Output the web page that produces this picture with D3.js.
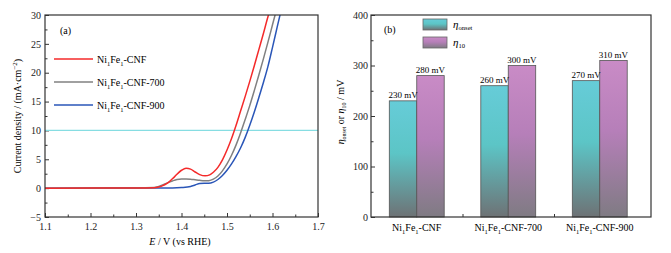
<!DOCTYPE html>
<html>
<head>
<meta charset="utf-8">
<script src="https://cdn.jsdelivr.net/npm/d3@7"></script>
<style>
  body { margin: 0; background: #fff; }
  svg { display: block; font-family: "Liberation Serif", "Times New Roman", serif; }
</style>
</head>
<body>
<div id="chart"></div>
<script>
// (a) LSV curves, [E (V vs RHE), j (mA cm^-2)]
const seriesNames = ["Ni1Fe1-CNF", "Ni1Fe1-CNF-700", "Ni1Fe1-CNF-900"];
const curveCNF = [
    [1.10, 0], [1.30, 0.03], [1.34, 0.08], [1.355, 0.3], [1.37, 0.9], [1.385, 2.0], [1.40, 3.1],
    [1.41, 3.45], [1.42, 3.3], [1.43, 2.8], [1.44, 2.35], [1.452, 2.13], [1.462, 2.3], [1.47, 2.75],
    [1.48, 3.6], [1.49, 4.9], [1.50, 6.6], [1.51, 8.6], [1.52, 10.9], [1.53, 13.4], [1.54, 15.9],
    [1.55, 18.5], [1.56, 21.2], [1.57, 24], [1.58, 26.8], [1.59, 29.7], [1.595, 31]
];
const curve700 = [
    [1.10, 0], [1.30, 0.03], [1.34, 0.1], [1.35, 0.3], [1.36, 0.6], [1.37, 0.95], [1.38, 1.25],
    [1.39, 1.5], [1.40, 1.6], [1.41, 1.6], [1.42, 1.55], [1.43, 1.45], [1.44, 1.35], [1.45, 1.28],
    [1.46, 1.3], [1.47, 1.55], [1.48, 2.1], [1.49, 3.0], [1.50, 4.2], [1.51, 5.7], [1.52, 7.5],
    [1.53, 9.6], [1.54, 11.9], [1.55, 14.3], [1.56, 16.9], [1.57, 19.6], [1.58, 22.4], [1.59, 25.3],
    [1.60, 28.3], [1.61, 31.3]
];
const curve900 = [
    [1.10, 0], [1.38, 0.03], [1.40, 0.1], [1.42, 0.3], [1.43, 0.55], [1.44, 0.8], [1.45, 0.85],
    [1.46, 0.85], [1.47, 1.05], [1.48, 1.5], [1.49, 2.2], [1.50, 3.1], [1.51, 4.2], [1.52, 5.5],
    [1.53, 7.0], [1.54, 8.8], [1.55, 10.9], [1.56, 13.2], [1.57, 15.7], [1.58, 18.3], [1.59, 21.1],
    [1.60, 24.4], [1.61, 27.8], [1.62, 31.2]
];
const curveColors = ["#f42a2a", "#808080", "#2a56b8"];
const refCurrent = 10;

// (b) overpotentials, mV
const groups = ["Ni1Fe1-CNF", "Ni1Fe1-CNF-700", "Ni1Fe1-CNF-900"];
const etaOnset = [230, 260, 270];
const eta10 = [280, 300, 310];

const W = 671, H = 253;
const svg = d3.select("#chart").append("svg").attr("width", W).attr("height", H);
const frame = "#333";

// text with subscript digits after Ni / Fe
function sampleLabel(sel, name) {
    const parts = name.match(/^Ni1Fe1(.*)$/);
    sel.append("tspan").text("Ni");
    sel.append("tspan").attr("font-size", "0.65em").attr("dy", 3).text("1");
    sel.append("tspan").attr("dy", -3).text("Fe");
    sel.append("tspan").attr("font-size", "0.65em").attr("dy", 3).text("1");
    sel.append("tspan").attr("dy", -3).text(parts[1]);
}

function styleAxis(g) {
    g.select(".domain").remove();
    g.selectAll("line").attr("stroke", frame);
    g.selectAll("text").attr("fill", "#222").attr("font-size", 10)
        .attr("font-family", "Liberation Serif, Times New Roman, serif");
}

// ---------- panel (a) ----------
const A = { left: 45, right: 318, top: 15, bottom: 217 };
const xA = d3.scaleLinear().domain([1.1, 1.7]).range([A.left, A.right]);
const yA = d3.scaleLinear().domain([-5, 30]).range([A.bottom, A.top]);
const ga = svg.append("g");

ga.append("g").attr("transform", `translate(0,${A.bottom})`)
    .call(d3.axisBottom(xA).tickValues(d3.range(1.15, 1.7, 0.1)).tickSize(-2.5).tickFormat(""))
    .call(styleAxis);
ga.append("g").attr("transform", `translate(0,${A.bottom})`)
    .call(d3.axisBottom(xA).tickValues(d3.range(1.1, 1.71, 0.1)).tickSize(-4).tickPadding(6).tickFormat(d3.format(".1f")))
    .call(styleAxis);
ga.append("g").attr("transform", `translate(${A.left},0)`)
    .call(d3.axisLeft(yA).tickValues(d3.range(-2.5, 30, 5)).tickSize(-2.5).tickFormat(""))
    .call(styleAxis);
ga.append("g").attr("transform", `translate(${A.left},0)`)
    .call(d3.axisLeft(yA).tickValues(d3.range(-5, 31, 5)).tickSize(-4).tickPadding(4))
    .call(styleAxis)
    .call(g => g.selectAll("text").text(d => d < 0 ? "\u2212" + Math.abs(d) : d));

ga.append("line")
    .attr("x1", A.left).attr("x2", A.right)
    .attr("y1", yA(refCurrent)).attr("y2", yA(refCurrent))
    .attr("stroke", "#86dde2").attr("stroke-width", 1.2);

svg.append("clipPath").attr("id", "clipA").append("rect")
    .attr("x", A.left).attr("y", A.top).attr("width", A.right - A.left).attr("height", A.bottom - A.top);
const line = d3.line().x(d => xA(d[0])).y(d => yA(d[1])).curve(d3.curveMonotoneX);
const curves = [curve900, curve700, curveCNF];
const curveOrder = [2, 1, 0];
ga.append("g").attr("clip-path", "url(#clipA)")
    .selectAll("path").data(curves).join("path")
    .attr("d", line).attr("fill", "none")
    .attr("stroke", (d, i) => curveColors[curveOrder[i]]).attr("stroke-width", 1.5);

ga.append("rect").attr("x", A.left).attr("y", A.top)
    .attr("width", A.right - A.left).attr("height", A.bottom - A.top)
    .attr("fill", "none").attr("stroke", frame).attr("stroke-width", 1.2);

ga.append("text").attr("x", 60).attr("y", 34).attr("font-size", 10).text("(a)");

const legA = ga.append("g");
seriesNames.forEach((n, i) => {
    const y = 59 + i * 23;
    legA.append("line").attr("x1", 54).attr("x2", 93).attr("y1", y).attr("y2", y)
        .attr("stroke", curveColors[i]).attr("stroke-width", 1.5);
    legA.append("text").attr("x", 97).attr("y", y + 3.5).attr("font-size", 10)
        .call(sampleLabel, n);
});

ga.append("text").attr("x", 180).attr("y", 245).attr("text-anchor", "middle").attr("font-size", 10)
    .call(t => {
        t.append("tspan").attr("font-style", "italic").text("E");
        t.append("tspan").text(" / V (vs RHE)");
    });
ga.append("text").attr("transform", `translate(21,${(A.top + A.bottom) / 2}) rotate(-90)`)
    .attr("text-anchor", "middle").attr("font-size", 10)
    .call(t => {
        t.append("tspan").text("Current density / (mA\u00b7cm");
        t.append("tspan").attr("font-size", "0.7em").attr("dy", -4).text("\u22122");
        t.append("tspan").attr("dy", 4).text(")");
    });

// ---------- panel (b) ----------
const B = { left: 371, right: 651, top: 15, bottom: 217 };
const xB = d3.scaleLinear().domain([0.5, 3.56]).range([B.left, B.right]);
const yB = d3.scaleLinear().domain([0, 400]).range([B.bottom, B.top]);
const gb = svg.append("g");
const barW = 0.3;

const defs = svg.append("defs");
function grad(id, top, mid, bottom) {
    const g = defs.append("linearGradient").attr("id", id)
        .attr("x1", 0).attr("y1", 0).attr("x2", 0).attr("y2", 1);
    g.append("stop").attr("offset", "0%").attr("stop-color", top);
    g.append("stop").attr("offset", "45%").attr("stop-color", mid);
    g.append("stop").attr("offset", "100%").attr("stop-color", bottom);
}
grad("gOnset", "#66ccd8", "#5cc5c6", "#6e7275");
grad("g10", "#c98bc6", "#b67fb9", "#7f7b83");

gb.append("g").attr("transform", `translate(0,${B.bottom})`)
    .call(d3.axisBottom(xB).tickValues([1.5, 2.5]).tickSize(-3).tickFormat(""))
    .call(styleAxis);
gb.append("g").attr("transform", `translate(${B.left},0)`)
    .call(d3.axisLeft(yB).tickValues(d3.range(50, 400, 100)).tickSize(-2.5).tickFormat(""))
    .call(styleAxis);
gb.append("g").attr("transform", `translate(${B.left},0)`)
    .call(d3.axisLeft(yB).tickValues(d3.range(0, 401, 100)).tickSize(-4).tickPadding(3))
    .call(styleAxis);

const bars = [];
groups.forEach((g, i) => {
    bars.push({ x0: i + 1 - barW, v: etaOnset[i], fill: "url(#gOnset)" });
    bars.push({ x0: i + 1, v: eta10[i], fill: "url(#g10)" });
});
gb.selectAll("rect.bar").data(bars).join("rect").attr("class", "bar")
    .attr("x", d => xB(d.x0)).attr("width", xB(barW) - xB(0))
    .attr("y", d => yB(d.v)).attr("height", d => yB(0) - yB(d.v))
    .attr("fill", d => d.fill).attr("stroke", "#555").attr("stroke-width", 0.8);
gb.selectAll("text.val").data(bars).join("text").attr("class", "val")
    .attr("x", d => xB(d.x0 + barW / 2)).attr("y", d => yB(d.v) - 2.5)
    .attr("text-anchor", "middle").attr("font-size", 9)
    .text(d => d.v + " mV");

gb.selectAll("text.grp").data(groups).join("text").attr("class", "grp")
    .attr("x", (d, i) => xB(i + 1)).attr("y", 231)
    .attr("text-anchor", "middle").attr("font-size", 10)
    .each(function (d) { sampleLabel(d3.select(this), d); });

gb.append("rect").attr("x", B.left).attr("y", B.top)
    .attr("width", B.right - B.left).attr("height", B.bottom - B.top)
    .attr("fill", "none").attr("stroke", frame).attr("stroke-width", 1.2);

gb.append("text").attr("x", 384).attr("y", 33).attr("font-size", 10).text("(b)");

const legB = [["onset", "url(#gOnset)", 19], ["10", "url(#g10)", 37]];
legB.forEach(([sub, fill, y]) => {
    gb.append("rect").attr("x", 423).attr("y", y).attr("width", 24).attr("height", 11)
        .attr("fill", fill).attr("stroke", "#666").attr("stroke-width", 0.8);
    gb.append("text").attr("x", 453).attr("y", y + 9).attr("font-size", 11)
        .call(t => {
            t.append("tspan").attr("font-style", "italic").text("\u03b7");
            t.append("tspan").attr("font-size", "0.6em").attr("dy", 2).text(sub);
        });
});

gb.append("text").attr("transform", `translate(344,${(B.top + B.bottom) / 2 - 4}) rotate(-90)`)
    .attr("text-anchor", "middle").attr("font-size", 10)
    .call(t => {
        t.append("tspan").attr("font-style", "italic").text("\u03b7");
        t.append("tspan").attr("font-size", "0.6em").attr("dy", 2).text("onset");
        t.append("tspan").attr("dy", -2).text(" or ");
        t.append("tspan").attr("font-style", "italic").text("\u03b7");
        t.append("tspan").attr("font-size", "0.6em").attr("dy", 2).text("10");
        t.append("tspan").attr("dy", -2).text(" / mV");
    });
</script>
</body>
</html>
